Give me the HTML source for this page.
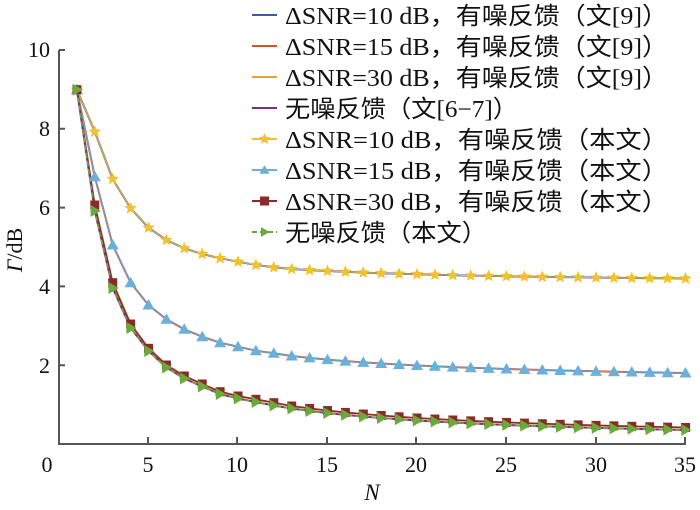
<!DOCTYPE html>
<html><head><meta charset="utf-8"><style>
body{margin:0;background:#fff}
svg{display:block}
text{font-family:"Liberation Serif","Noto Serif CJK SC",serif;fill:#111}
.cj{font-family:"Liberation Serif","Noto Sans CJK SC",serif}
</style></head><body>
<svg id="s" width="700" height="510" xmlns="http://www.w3.org/2000/svg">
<g stroke="#555" stroke-width="2" fill="none">
<path d="M59,50 V444 H686"/>
<path d="M59,50 h6 M59,128.8 h6 M59,207.6 h6 M59,286.4 h6 M59,365.2 h6"/>
<path d="M148,444 v-7 M237,444 v-7 M327,444 v-7 M416,444 v-7 M506,444 v-7 M596,444 v-7 M685,444 v-7"/>
</g>
<g font-size="22" text-anchor="end">
<text x="50" y="57">10</text><text x="50" y="136">8</text><text x="50" y="215">6</text><text x="50" y="294">4</text><text x="50" y="373">2</text>
</g>
<g font-size="22" text-anchor="middle">
<text x="47" y="472">0</text><text x="148" y="472">5</text><text x="237" y="472">10</text><text x="327" y="472">15</text><text x="416" y="472">20</text><text x="506" y="472">25</text><text x="596" y="472">30</text><text x="685" y="472">35</text>
</g>
<text x="372" y="500" font-size="23" font-style="italic" text-anchor="middle">N</text>
<text transform="translate(22,250) rotate(-90)" font-size="22" text-anchor="middle"><tspan font-style="italic">Γ</tspan>/dB</text>
<g id="plot"></g>
<g id="leg"></g>
</svg>
<script>
const X=n=>59+n*17.9;
function series(head,y13,y35){const ys=[null,...head];for(let n=head.length+1;n<=35;n++){const K=(y13-y35)/(1/13-1/35);const c=y35-K/35;ys[n]=c+K/n;}return ys;}
const s10=series([89.7,131.7,179,208.3,227.7,240,248.3,254,258.3,261.7,265,267.3,269],269,278.5);
const s15=series([89.7,176.7,245,282.7,305,319.3,329.3,336.7,342.7,346.7,350.7,353.3,356],356,373);
const s30=series([89.7,205,282.7,324,348.3,365,376,384,391.7,396,399.3,402.7,406],406,427.5);
const s0=series([89.7,211,288,328,351,367.5,378.5,386.5,394,398.5,402,405.5,408.5],408.5,430);
const P=document.getElementById('plot');let h='';
function line(ys,col,w,dash,off){let d='';for(let n=1;n<=35;n++)d+=(n==1?'M':'L')+X(n).toFixed(1)+','+(ys[n]+(off||0)).toFixed(1);h+=`<path d="${d}" fill="none" stroke="${col}" stroke-width="${w}" ${dash?'stroke-dasharray="'+dash+'"':''}/>`;}
function star(x,y,r,c){let p='';for(let i=0;i<10;i++){const a=-Math.PI/2+i*Math.PI/5,rr=i%2?r*0.45:r;p+=(x+rr*Math.cos(a)).toFixed(1)+','+(y+rr*Math.sin(a)).toFixed(1)+' ';}return `<polygon points="${p}" fill="${c}"/>`;}
function tri(x,y,r,c){return `<polygon points="${x},${y-r} ${x+r},${y+r*0.75} ${x-r},${y+r*0.75}" fill="${c}"/>`;}
function sq(x,y,r,c){return `<rect x="${x-r}" y="${y-r}" width="${2*r}" height="${2*r}" fill="${c}"/>`;}
function rt(x,y,r,c){return `<polygon points="${x+r},${y} ${x-r*0.7},${y-r} ${x-r*0.7},${y+r}" fill="${c}"/>`;}
line(s10,'#3b5ea8',2);line(s10,'#e8b43a',1.2);
line(s15,'#d9502a',2);line(s15,'#5ba8d6',1.2);
line(s30,'#e8a23a',2);line(s30,'#8b2a2a',1.6);
line(s0,'#7b2d8a',2);line(s0,'#6aaa3a',1.6,'5,3');
for(let n=1;n<=35;n++){h+=star(X(n),s10[n],6.5,'#f2c12e');h+=tri(X(n),s15[n],6,'#6bb0da');h+=sq(X(n),s30[n],4.5,'#8b2a2a');h+=rt(X(n),s0[n],6,'#6aaa3a');}
P.innerHTML=h;
const L=[['#3b5ea8','','ΔSNR=10 dB，有噪反馈（文[9]）',383],['#d9502a','','ΔSNR=15 dB，有噪反馈（文[9]）',383],['#e8a23a','','ΔSNR=30 dB，有噪反馈（文[9]）',383],['#7b2d8a','','无噪反馈（文[6−7]）',233],['#f2c12e','s','ΔSNR=10 dB，有噪反馈（本文）',383],['#6bb0da','t','ΔSNR=15 dB，有噪反馈（本文）',383],['#8b2a2a','q','ΔSNR=30 dB，有噪反馈（本文）',383],['#6aaa3a','r','无噪反馈（本文）',202]];
let g='';L.forEach((l,i)=>{const y=15+i*31;g+=`<path d="M252,${y} H277" stroke="${l[0]}" stroke-width="2" ${l[1]=='r'?'stroke-dasharray="5,3"':''}/>`;const cx=264.5;if(l[1]=='s')g+=star(cx,y,6,l[0]);if(l[1]=='t')g+=tri(cx,y,5,l[0]);if(l[1]=='q')g+=sq(cx,y,4.5,l[0]);if(l[1]=='r')g+=rt(cx,y,5,l[0]);g+=`<text class="cj" x="285" y="${y+9}" font-size="24" textLength="${l[3]}" lengthAdjust="spacingAndGlyphs">${l[2]}</text>`;});
document.getElementById('leg').innerHTML=g;
</script>
</body></html>
